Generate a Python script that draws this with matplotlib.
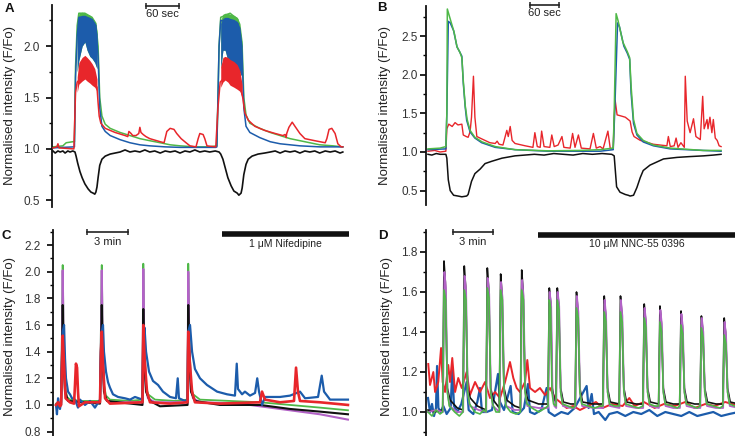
import matplotlib
matplotlib.use("Agg")
import matplotlib.pyplot as plt
import matplotlib.transforms as mtrans
from matplotlib.ticker import MultipleLocator, FormatStrFormatter

plt.rcParams['font.family'] = ['Liberation Sans', 'DejaVu Sans']

GREEN = '#4fb848'
BLUE = '#1c5cab'
RED = '#e8262b'
PURPLE = '#b262c6'
BLACK = '#111111'

# ---------------- panel A (time in s, F/Fo) ----------------
a_green = [(0, 1.02), (18, 1.03), (24, 1.06), (36, 1.07), (39, 1.07), (41, 1.80), (44, 2.20),
           (47, 2.32), (58, 2.32), (71, 2.28), (78, 2.22), (82, 2.00), (85, 1.50), (89, 1.32),
           (95, 1.24), (104, 1.20), (122, 1.16), (140, 1.13), (158, 1.10), (176, 1.08),
           (195, 1.06), (213, 1.04), (231, 1.03), (258, 1.02), (285, 1.02), (298, 1.03),
           (300, 1.50), (302, 2.00), (305, 2.28), (322, 2.32), (336, 2.26), (344, 2.00),
           (347, 1.50), (351, 1.33), (358, 1.25), (376, 1.20), (395, 1.16), (413, 1.13),
           (431, 1.10), (449, 1.08), (467, 1.06), (485, 1.04), (509, 1.03), (527, 1.02)]
a_blue = [(0, 1.01), (38, 1.02), (39, 1.02), (41, 1.70), (44, 2.10), (47, 2.28), (71, 2.26),
          (78, 2.20), (82, 1.90), (85, 1.40), (89, 1.22), (95, 1.17), (104, 1.13), (122, 1.09),
          (140, 1.06), (158, 1.04), (176, 1.03), (204, 1.02), (231, 1.015), (296, 1.015),
          (298, 1.02), (300, 1.50), (302, 2.00), (305, 2.25), (336, 2.22), (344, 1.90),
          (347, 1.40), (351, 1.22), (358, 1.16), (376, 1.11), (395, 1.07), (413, 1.05),
          (431, 1.04), (449, 1.03), (485, 1.02), (527, 1.02)]
a_red = [(0, 1.01), (7, 1.02), (9, 1.05), (11, 1.01), (38, 1.00), (41, 1.55), (44, 1.65),
         (62, 1.75), (80, 1.60), (82, 1.45), (84, 1.32), (87, 1.25), (95, 1.20), (113, 1.16),
         (131, 1.13), (136, 1.12), (138, 1.17), (142, 1.15), (145, 1.13), (151, 1.13),
         (156, 1.15), (158, 1.21), (160, 1.16), (164, 1.14), (169, 1.12), (176, 1.10),
         (195, 1.07), (202, 1.06), (207, 1.17), (213, 1.20), (220, 1.19), (225, 1.15),
         (233, 1.10), (242, 1.06), (249, 1.03), (260, 1.02), (264, 1.10), (267, 1.15),
         (273, 1.14), (276, 1.10), (280, 1.03), (296, 1.02), (300, 1.40), (304, 1.65),
         (322, 1.75), (340, 1.62), (345, 1.50), (349, 1.35), (355, 1.28), (367, 1.22),
         (385, 1.18), (404, 1.15), (418, 1.13), (422, 1.14), (424, 1.11), (425, 1.15),
         (429, 1.21), (435, 1.26), (440, 1.22), (449, 1.15), (458, 1.10), (476, 1.08),
         (495, 1.06), (498, 1.10), (502, 1.19), (507, 1.20), (513, 1.15), (518, 1.05),
         (524, 1.02), (527, 1.02)]
a_black = [(0, 0.98), (4, 0.96), (9, 0.98), (13, 0.97), (18, 0.98), (22, 0.96), (27, 0.98),
           (31, 0.97), (36, 0.98), (40, 0.97), (42, 0.93), (45, 0.86), (49, 0.78), (53, 0.72),
           (58, 0.66), (64, 0.61), (69, 0.58), (73, 0.57), (76, 0.56), (78, 0.58), (80, 0.63),
           (82, 0.72), (85, 0.84), (89, 0.90), (95, 0.93), (104, 0.95), (113, 0.96),
           (122, 0.97), (131, 0.99), (140, 0.97), (149, 0.98), (158, 0.97), (167, 0.99),
           (176, 0.97), (185, 0.98), (195, 0.96), (204, 0.98), (213, 0.97), (222, 0.98),
           (231, 0.96), (240, 0.98), (249, 0.97), (258, 0.99), (267, 0.97), (276, 0.98),
           (285, 0.97), (295, 0.98), (302, 0.97), (305, 0.95), (309, 0.90), (313, 0.82),
           (318, 0.72), (324, 0.64), (329, 0.59), (335, 0.57), (338, 0.55), (342, 0.57),
           (344, 0.62), (347, 0.75), (351, 0.85), (355, 0.90), (362, 0.93), (373, 0.95),
           (385, 0.96), (395, 0.97), (404, 0.98), (413, 0.96), (422, 0.98), (431, 0.97),
           (440, 0.98), (449, 0.96), (458, 0.98), (467, 0.97), (476, 0.98), (485, 0.96),
           (495, 0.98), (504, 0.97), (513, 0.98), (522, 0.96), (527, 0.97)]
# oscillating plateau envelopes (two stimulations)
a_band_t = [[44, 47, 53, 58, 62, 67, 71, 76, 80], [305, 309, 313, 318, 322, 329, 335, 340, 344]]
a_green_top = [[2.20, 2.32, 2.33, 2.32, 2.31, 2.30, 2.28, 2.24, 2.15],
               [2.25, 2.31, 2.32, 2.32, 2.31, 2.30, 2.28, 2.22, 2.05]]
a_blue_top = [[2.15, 2.29, 2.30, 2.30, 2.29, 2.28, 2.26, 2.22, 2.12],
              [2.22, 2.27, 2.28, 2.28, 2.27, 2.26, 2.24, 2.18, 2.00]]
a_blue_low = [[1.75, 1.86, 2.00, 2.04, 1.96, 1.90, 1.88, 1.84, 1.78],
              [1.78, 1.96, 1.96, 1.86, 1.82, 1.80, 1.78, 1.74, 1.70]]
a_red_top = [[1.70, 1.84, 1.89, 1.91, 1.89, 1.86, 1.83, 1.78, 1.68],
             [1.80, 1.89, 1.90, 1.89, 1.87, 1.85, 1.82, 1.76, 1.62]]
a_red_low = [[1.55, 1.63, 1.66, 1.68, 1.66, 1.64, 1.62, 1.60, 1.56],
             [1.60, 1.65, 1.67, 1.65, 1.62, 1.60, 1.58, 1.56, 1.50]]

# ---------------- panel B (time in s) ----------------
b_green = [(0, 1.04), (25, 1.05), (37, 1.07), (39, 1.50), (40, 2.85), (46, 2.72), (54, 2.55),
           (60, 2.36), (66, 2.29), (70, 2.22), (73, 1.92), (77, 1.60), (81, 1.42), (87, 1.28),
           (97, 1.19), (112, 1.13), (139, 1.07), (180, 1.03), (248, 1.015), (314, 1.02),
           (356, 1.03), (383, 1.05), (385, 1.50), (389, 2.79), (393, 2.70), (403, 2.42),
           (412, 2.30), (417, 2.22), (420, 1.85), (425, 1.42), (432, 1.24), (445, 1.15),
           (466, 1.09), (501, 1.05), (569, 1.02), (606, 1.02)]
b_blue = [(0, 1.03), (37, 1.04), (39, 1.50), (42, 2.69), (46, 2.67), (53, 2.57), (60, 2.36),
          (66, 2.29), (70, 2.24), (73, 1.89), (77, 1.58), (80, 1.41), (87, 1.26), (97, 1.18),
          (111, 1.12), (139, 1.06), (180, 1.03), (248, 1.01), (356, 1.01), (383, 1.03),
          (386, 1.50), (392, 2.67), (396, 2.62), (405, 2.37), (412, 2.28), (417, 2.20),
          (420, 1.76), (425, 1.37), (432, 1.22), (445, 1.13), (466, 1.08), (501, 1.04),
          (569, 1.02), (606, 1.01)]
b_red = [(0, 1.01), (14, 1.02), (25, 1.00), (37, 1.01), (39, 1.30), (43, 1.36), (50, 1.33),
         (56, 1.38), (62, 1.35), (70, 1.36), (73, 1.22), (79, 1.20), (83, 1.19), (87, 1.26),
         (90, 1.45), (94, 1.98), (97, 1.45), (101, 1.20), (111, 1.17), (128, 1.12),
         (139, 1.11), (143, 1.14), (147, 1.10), (155, 1.09), (163, 1.28), (166, 1.20),
         (170, 1.33), (174, 1.15), (180, 1.11), (201, 1.08), (217, 1.06), (221, 1.25),
         (226, 1.07), (232, 1.06), (235, 1.27), (240, 1.07), (252, 1.06), (256, 1.22),
         (261, 1.07), (269, 1.09), (277, 1.20), (281, 1.06), (294, 1.05), (299, 1.24),
         (304, 1.06), (311, 1.22), (317, 1.05), (335, 1.04), (342, 1.24), (348, 1.05),
         (356, 1.07), (362, 1.04), (372, 1.27), (377, 1.04), (383, 1.05), (385, 1.45),
         (387, 1.67), (391, 1.48), (397, 1.47), (408, 1.45), (414, 1.42), (418, 1.40),
         (422, 1.26), (426, 1.20), (439, 1.15), (466, 1.10), (494, 1.08), (497, 1.20),
         (501, 1.07), (509, 1.08), (513, 1.18), (517, 1.06), (523, 1.12), (530, 1.06),
         (532, 1.98), (536, 1.40), (542, 1.25), (549, 1.43), (554, 1.20), (563, 1.16),
         (568, 1.72), (571, 1.30), (577, 1.42), (579, 1.30), (583, 1.45), (587, 1.25),
         (590, 1.42), (594, 1.18), (598, 1.15), (602, 1.08), (606, 1.07)]
b_black = [(0, 0.97), (8, 0.96), (17, 0.98), (25, 0.97), (37, 0.97), (39, 0.92), (42, 0.64),
           (46, 0.50), (53, 0.44), (62, 0.43), (70, 0.42), (80, 0.43), (83, 0.45), (90, 0.62),
           (97, 0.72), (108, 0.78), (118, 0.85), (132, 0.88), (153, 0.92), (180, 0.95),
           (200, 0.96), (220, 0.97), (240, 0.96), (260, 0.98), (280, 0.97), (300, 0.96),
           (320, 0.98), (340, 0.97), (360, 0.98), (380, 0.97), (385, 0.95), (390, 0.55),
           (397, 0.48), (408, 0.45), (414, 0.44), (418, 0.43), (425, 0.44), (432, 0.54),
           (439, 0.67), (445, 0.76), (459, 0.83), (473, 0.87), (487, 0.91), (515, 0.93),
           (540, 0.94), (570, 0.95), (590, 0.96), (606, 0.97)]

# ---------------- panel C (time in min) ----------------
c_green = [(0.00, 1.01), (0.37, 1.02), (0.44, 1.60), (0.49, 2.05), (0.56, 1.50), (0.66, 1.15),
           (0.81, 1.06), (1.02, 1.04), (1.76, 1.03), (3.22, 1.03), (3.29, 1.60), (3.35, 2.05),
           (3.42, 1.50), (3.51, 1.15), (3.66, 1.07), (3.95, 1.04), (5.42, 1.03), (6.33, 1.04),
           (6.39, 2.06), (6.46, 1.50), (6.59, 1.15), (6.73, 1.08), (7.25, 1.04), (8.71, 1.03),
           (9.63, 1.04), (9.68, 2.06), (9.76, 1.50), (9.88, 1.15), (10.03, 1.08),
           (10.54, 1.04), (14.93, 1.02), (17.13, 1.00), (19.32, 0.98), (21.37, 0.96)]
c_purple = [(0.00, 1.00), (0.37, 1.00), (0.44, 1.50), (0.49, 2.01), (0.56, 1.45), (0.66, 1.12),
            (0.81, 1.04), (1.02, 1.02), (3.22, 1.02), (3.29, 1.50), (3.35, 2.01), (3.42, 1.45),
            (3.51, 1.12), (3.66, 1.04), (3.95, 1.02), (6.33, 1.02), (6.39, 2.02), (6.46, 1.45),
            (6.59, 1.12), (6.73, 1.05), (7.25, 1.02), (9.63, 1.02), (9.68, 2.00), (9.76, 1.45),
            (9.88, 1.12), (10.03, 1.05), (10.54, 1.02), (13.47, 1.01), (14.93, 0.99),
            (17.13, 0.96), (19.32, 0.93), (21.37, 0.89)]
c_black = [(0.00, 1.00), (0.37, 1.00), (0.44, 1.40), (0.49, 1.75), (0.56, 1.35), (0.66, 1.10),
           (0.88, 1.03), (3.22, 1.01), (3.29, 1.40), (3.35, 1.75), (3.42, 1.35), (3.51, 1.10),
           (3.73, 1.03), (6.33, 1.00), (6.39, 1.72), (6.46, 1.32), (6.59, 1.10), (6.88, 1.03),
           (7.61, 0.99), (9.63, 1.00), (9.68, 1.75), (9.76, 1.35), (9.88, 1.10), (10.17, 1.03),
           (12.00, 1.00), (14.93, 1.00), (17.13, 0.97), (19.32, 0.95), (21.37, 0.93)]
c_blue = [(0.00, 1.00), (0.07, 0.93), (0.15, 1.05), (0.22, 1.00), (0.29, 0.97), (0.37, 1.02),
          (0.44, 1.30), (0.49, 1.55), (0.59, 1.60), (0.66, 1.35), (0.73, 1.20), (0.88, 1.10),
          (1.02, 1.08), (1.17, 1.05), (1.39, 1.04), (1.61, 0.98), (1.76, 1.04), (2.12, 1.00),
          (2.49, 1.03), (2.85, 0.98), (3.22, 1.04), (3.29, 1.40), (3.35, 1.55), (3.44, 1.60),
          (3.51, 1.40), (3.66, 1.25), (3.81, 1.17), (3.95, 1.13), (4.17, 1.08), (4.54, 1.06),
          (5.05, 1.05), (5.42, 1.04), (5.78, 1.06), (6.33, 1.04), (6.39, 1.50), (6.48, 1.58),
          (6.59, 1.40), (6.81, 1.25), (7.10, 1.18), (7.47, 1.15), (7.83, 1.10), (8.35, 1.06),
          (8.78, 1.05), (8.91, 1.20), (9.00, 1.05), (9.44, 1.03), (9.63, 1.04), (9.68, 1.55),
          (9.81, 1.60), (9.96, 1.40), (10.17, 1.27), (10.54, 1.20), (11.05, 1.15),
          (11.79, 1.10), (12.52, 1.08), (13.10, 1.07), (13.23, 1.31), (13.32, 1.12),
          (13.62, 1.08), (13.83, 1.10), (14.20, 1.07), (14.57, 1.09), (14.73, 1.20),
          (14.86, 1.10), (15.08, 1.00), (15.30, 1.06), (16.40, 1.06), (17.13, 1.07),
          (17.86, 1.10), (18.23, 1.05), (19.18, 1.06), (19.45, 1.22), (19.62, 1.10),
          (20.06, 1.04), (21.37, 1.04)]
c_red = [(0.00, 1.00), (0.15, 1.02), (0.29, 0.99), (0.37, 1.00), (0.44, 1.30), (0.49, 1.52),
         (0.59, 1.30), (0.70, 1.05), (1.02, 1.02), (1.32, 1.01), (1.39, 1.15), (1.46, 1.31),
         (1.54, 1.28), (1.61, 1.10), (1.68, 0.99), (2.12, 1.02), (3.22, 1.02), (3.29, 1.40),
         (3.35, 1.55), (3.44, 1.30), (3.59, 1.05), (3.95, 1.01), (6.33, 1.02), (6.39, 1.60),
         (6.48, 1.35), (6.66, 1.10), (6.88, 1.02), (8.35, 1.01), (9.63, 1.02), (9.68, 1.55),
         (9.77, 1.35), (9.96, 1.10), (10.17, 1.02), (12.00, 1.01), (14.93, 1.02),
         (15.08, 1.10), (15.30, 1.04), (16.40, 1.02), (17.42, 1.03), (17.57, 1.28),
         (17.71, 1.10), (17.86, 1.03), (19.32, 1.02), (21.37, 1.00)]

# ---------------- panel D (time in min) ----------------
d_blue = [(0.00, 1.07), (0.15, 1.00), (0.30, 1.04), (0.45, 0.98), (0.60, 1.02), (0.68, 1.23),
          (0.78, 1.02), (0.95, 1.00), (1.15, 1.03), (1.40, 0.99), (1.70, 1.02), (1.82, 1.22),
          (1.95, 1.03), (2.20, 1.00), (2.50, 1.04), (2.90, 1.15), (3.05, 1.01), (3.40, 0.99),
          (3.70, 1.05), (3.90, 1.12), (4.05, 1.00), (4.40, 1.00), (4.80, 1.01), (5.25, 1.19),
          (5.40, 1.05), (5.70, 1.01), (6.20, 1.13), (6.35, 1.00), (6.80, 0.99), (7.20, 1.02),
          (7.50, 1.14), (7.65, 1.00), (8.00, 0.99), (8.50, 1.01), (8.90, 1.12), (9.05, 1.00),
          (9.50, 0.98), (10.00, 1.00), (10.50, 0.99), (11.00, 1.02), (11.90, 1.13),
          (12.05, 1.02), (12.28, 1.09), (12.45, 0.99), (12.80, 1.00), (13.30, 0.96),
          (13.60, 0.99), (14.20, 1.00), (14.80, 0.98), (15.40, 1.00), (16.00, 0.99),
          (16.60, 1.01), (17.20, 0.98), (17.80, 1.00), (18.40, 0.99), (19.00, 0.98),
          (19.60, 1.00), (20.20, 0.98), (20.80, 0.99), (21.40, 1.00), (22.00, 0.98),
          (22.60, 0.99), (23.30, 1.00)]
d_red = [(0.02, 1.24), (0.15, 1.135), (0.40, 1.20), (0.53, 1.10), (0.77, 1.15), (0.98, 1.32),
         (1.10, 1.15), (1.28, 1.10), (1.52, 1.235), (1.65, 1.15), (1.82, 1.27), (2.03, 1.10),
         (2.27, 1.17), (2.53, 1.12), (2.90, 1.20), (3.15, 1.085), (3.53, 1.15), (3.90, 1.10),
         (4.28, 1.15), (4.65, 1.07), (5.03, 1.10), (5.40, 1.07), (5.78, 1.15), (6.15, 1.25),
         (6.40, 1.17), (6.65, 1.12), (6.90, 1.10), (7.28, 1.15), (7.45, 1.26), (7.65, 1.12),
         (8.03, 1.10), (8.40, 1.12), (8.78, 1.085), (9.15, 1.12), (9.53, 1.07), (9.90, 1.05),
         (10.40, 1.02), (10.90, 1.03), (11.40, 1.01), (12.00, 1.03), (12.60, 1.05),
         (13.10, 1.02), (13.80, 1.04), (14.60, 1.03), (15.10, 1.07), (15.50, 1.03),
         (16.20, 1.05), (17.00, 1.02), (17.70, 1.04), (18.50, 1.03), (19.30, 1.05),
         (20.00, 1.02), (20.80, 1.04), (21.50, 1.03), (22.30, 1.05), (23.30, 1.03)]
d_black = [(0.00, 1.01), (0.50, 1.00), (1.10, 1.01), (1.20, 1.755), (1.30, 1.65), (1.45, 1.12),
           (1.65, 1.06), (2.20, 1.02), (2.62, 1.01), (2.72, 1.73), (2.82, 1.63), (2.97, 1.12),
           (3.17, 1.07), (3.70, 1.03), (4.35, 1.01), (4.45, 1.72), (4.55, 1.62), (4.70, 1.12),
           (4.90, 1.06), (5.35, 1.02), (5.45, 1.69), (5.55, 1.59), (5.70, 1.12), (5.90, 1.06),
           (6.50, 1.03), (6.93, 1.02), (7.03, 1.71), (7.13, 1.61), (7.28, 1.12), (7.48, 1.06),
           (8.30, 1.04), (9.00, 1.04), (9.10, 1.62), (9.20, 1.55), (9.32, 1.12), (9.48, 1.06),
           (9.60, 1.05), (9.70, 1.62), (9.80, 1.54), (9.95, 1.12), (10.15, 1.05),
           (10.70, 1.04), (11.04, 1.04), (11.14, 1.60), (11.24, 1.51), (11.39, 1.12),
           (11.59, 1.05), (12.40, 1.04), (13.12, 1.04), (13.22, 1.58), (13.32, 1.49),
           (13.47, 1.12), (13.67, 1.05), (14.34, 1.04), (14.44, 1.58), (14.54, 1.49),
           (14.69, 1.12), (14.89, 1.05), (15.60, 1.04), (16.12, 1.04), (16.22, 1.54),
           (16.32, 1.46), (16.47, 1.12), (16.67, 1.05), (17.30, 1.04), (17.40, 1.53),
           (17.50, 1.45), (17.65, 1.12), (17.85, 1.05), (18.40, 1.04), (18.88, 1.04),
           (18.98, 1.505), (19.08, 1.43), (19.23, 1.12), (19.43, 1.05), (20.00, 1.04),
           (20.41, 1.04), (20.51, 1.48), (20.61, 1.41), (20.76, 1.12), (20.96, 1.05),
           (21.60, 1.04), (22.12, 1.04), (22.22, 1.47), (22.32, 1.40), (22.47, 1.12),
           (22.67, 1.05), (23.30, 1.04)]
d_purple = [(0.00, 1.00), (0.60, 1.01), (1.12, 1.00), (1.23, 1.70), (1.34, 1.62), (1.46, 1.10),
            (1.62, 1.03), (2.20, 1.00), (2.64, 1.00), (2.75, 1.68), (2.86, 1.60), (2.98, 1.10),
            (3.14, 1.03), (3.80, 1.01), (4.37, 1.00), (4.48, 1.67), (4.59, 1.59), (4.71, 1.10),
            (4.87, 1.03), (5.37, 1.00), (5.48, 1.65), (5.59, 1.57), (5.71, 1.10), (5.87, 1.03),
            (6.50, 1.01), (6.95, 1.01), (7.06, 1.66), (7.17, 1.58), (7.29, 1.10), (7.45, 1.03),
            (8.30, 1.02), (9.02, 1.02), (9.13, 1.60), (9.24, 1.53), (9.34, 1.10), (9.48, 1.03),
            (9.62, 1.02), (9.73, 1.60), (9.84, 1.53), (9.96, 1.10), (10.12, 1.03),
            (10.70, 1.02), (11.06, 1.02), (11.17, 1.58), (11.28, 1.50), (11.40, 1.10),
            (11.56, 1.03), (12.40, 1.02), (13.14, 1.02), (13.25, 1.56), (13.36, 1.48),
            (13.48, 1.10), (13.64, 1.03), (14.36, 1.02), (14.47, 1.56), (14.58, 1.48),
            (14.70, 1.10), (14.86, 1.03), (15.60, 1.02), (16.14, 1.02), (16.25, 1.52),
            (16.36, 1.45), (16.48, 1.10), (16.64, 1.03), (17.32, 1.02), (17.43, 1.51),
            (17.54, 1.44), (17.66, 1.10), (17.82, 1.03), (18.40, 1.02), (18.90, 1.02),
            (19.01, 1.49), (19.12, 1.42), (19.24, 1.10), (19.40, 1.03), (20.00, 1.02),
            (20.43, 1.02), (20.54, 1.47), (20.65, 1.40), (20.77, 1.10), (20.93, 1.03),
            (21.60, 1.02), (22.14, 1.02), (22.25, 1.45), (22.36, 1.38), (22.48, 1.10),
            (22.64, 1.03), (23.30, 1.02)]
d_green = [(0.00, 1.00), (0.30, 0.98), (0.60, 1.01), (0.90, 0.99), (1.10, 1.00), (1.20, 1.61),
           (1.33, 1.56), (1.45, 1.10), (1.60, 1.03), (2.00, 1.00), (2.35, 0.98), (2.62, 1.00),
           (2.72, 1.61), (2.85, 1.56), (2.97, 1.10), (3.12, 1.04), (3.50, 1.00), (3.90, 0.99),
           (4.20, 1.01), (4.35, 1.00), (4.45, 1.62), (4.58, 1.57), (4.70, 1.10), (4.85, 1.04),
           (5.10, 1.00), (5.35, 1.00), (5.45, 1.61), (5.58, 1.56), (5.70, 1.10), (5.85, 1.03),
           (6.20, 1.00), (6.60, 0.99), (6.93, 1.00), (7.03, 1.61), (7.16, 1.56), (7.28, 1.10),
           (7.43, 1.04), (7.80, 1.02), (8.30, 1.00), (8.80, 1.02), (9.00, 1.03), (9.10, 1.56),
           (9.20, 1.52), (9.30, 1.10), (9.42, 1.04), (9.60, 1.03), (9.70, 1.56), (9.83, 1.51),
           (9.95, 1.10), (10.10, 1.04), (10.50, 1.03), (10.90, 1.02), (11.04, 1.03),
           (11.14, 1.52), (11.27, 1.47), (11.39, 1.10), (11.54, 1.04), (12.00, 1.03),
           (12.50, 1.02), (12.90, 1.03), (13.12, 1.03), (13.22, 1.50), (13.35, 1.45),
           (13.47, 1.10), (13.62, 1.04), (14.00, 1.03), (14.34, 1.03), (14.44, 1.50),
           (14.57, 1.45), (14.69, 1.10), (14.84, 1.04), (15.30, 1.03), (15.80, 1.02),
           (16.12, 1.03), (16.22, 1.47), (16.35, 1.42), (16.47, 1.10), (16.62, 1.04),
           (17.00, 1.03), (17.30, 1.03), (17.40, 1.45), (17.53, 1.40), (17.65, 1.10),
           (17.80, 1.04), (18.30, 1.03), (18.70, 1.02), (18.88, 1.03), (18.98, 1.435),
           (19.11, 1.39), (19.23, 1.10), (19.38, 1.04), (19.80, 1.03), (20.20, 1.02),
           (20.41, 1.03), (20.51, 1.42), (20.64, 1.37), (20.76, 1.10), (20.91, 1.04),
           (21.40, 1.03), (21.90, 1.02), (22.12, 1.03), (22.22, 1.385), (22.35, 1.34),
           (22.47, 1.10), (22.62, 1.04), (23.00, 1.03), (23.30, 1.02)]

YLABEL = 'Normalised intensity (F/Fo)'


def trace(ax, pts, color, lw, z):
    t = [p[0] for p in pts]
    v = [p[1] for p in pts]
    ax.plot(t, v, color=color, lw=lw, zorder=z, solid_joinstyle='round')


def style(ax, major, minor, pad):
    for s in ['top', 'right', 'bottom']:
        ax.spines[s].set_visible(False)
    ax.spines['left'].set_linewidth(1.3)
    ax.spines['left'].set_color('#111111')
    ax.set_xticks([])
    ax.yaxis.set_major_locator(MultipleLocator(major))
    ax.yaxis.set_minor_locator(MultipleLocator(minor))
    ax.yaxis.set_major_formatter(FormatStrFormatter('%.1f'))
    ax.tick_params(axis='y', which='major', direction='out', length=4, width=1.2,
                   labelsize=8.5, pad=pad, labelcolor='#333333')
    ax.tick_params(axis='y', which='minor', direction='out', length=2.5, width=1.0)
    ax.patch.set_visible(False)


def scalebar(ax, t0, t1, yf, text, tyf):
    tr = mtrans.blended_transform_factory(ax.transData, ax.transAxes)
    ax.plot([t0, t1], [yf, yf], color='#222222', lw=1.2, transform=tr, clip_on=False)
    ax.plot([t0, t1], [yf, yf], ls='none', marker='|', ms=4, mew=1.1, color='#222222',
            transform=tr, clip_on=False)
    ax.text((t0 + t1) / 2, tyf, text, transform=tr, ha='center', va='center',
            fontsize=8, color='#222222')


def drugbar(ax, t0, t1, yf, text, tx, tyf):
    tr = mtrans.blended_transform_factory(ax.transData, ax.transAxes)
    ax.plot([t0, t1], [yf, yf], color='#111111', lw=4, solid_capstyle='butt',
            transform=tr, clip_on=False)
    ax.text(tx, tyf, text, transform=tr, ha='center', va='center', fontsize=7.5,
            color='#222222')


W, H = 735, 436
fig = plt.figure(figsize=(W / 100, H / 100), dpi=100)


def axes_px(l, t, r, b):
    return fig.add_axes([l / W, 1 - b / H, (r - l) / W, (b - t) / H])


# --- A ---
axA = axes_px(52, 5, 345, 207)
for k in range(2):
    tb = a_band_t[k]
    axA.fill_between(tb, a_blue_low[k], a_green_top[k], color=GREEN, lw=0, zorder=1)
    axA.fill_between(tb, a_blue_low[k], a_blue_top[k], color=BLUE, lw=0, zorder=2)
    axA.fill_between(tb, a_red_low[k], a_red_top[k], color=RED, lw=0, zorder=3)
trace(axA, a_green, GREEN, 1.1, 1)
trace(axA, a_blue, BLUE, 1.1, 2)
trace(axA, a_red, RED, 1.1, 3)
trace(axA, a_black, BLACK, 1.2, 4)
axA.set_xlim(-1.8, 531)
axA.set_ylim(0.435, 2.40)
style(axA, 0.5, 0.25, 5)
scalebar(axA, 169, 229, 0.995, '60 sec', 0.955)

# --- B ---
axB = axes_px(426, 6, 723, 205)
trace(axB, b_red, RED, 1.0, 1)
trace(axB, b_blue, BLUE, 1.1, 2)
trace(axB, b_green, GREEN, 1.1, 3)
trace(axB, b_black, BLACK, 1.1, 4)
axB.set_xlim(-4.1, 610)
axB.set_ylim(0.314, 2.889)
style(axB, 0.5, 0.25, 2)
scalebar(axB, 211, 271, 1.005, '60 sec', 0.965)

# --- C ---
axC = axes_px(53, 230, 350, 436)
trace(axC, c_green, GREEN, 1.3, 1)
trace(axC, c_purple, PURPLE, 1.5, 2)
trace(axC, c_black, BLACK, 1.5, 3)
trace(axC, c_blue, BLUE, 1.6, 4)
trace(axC, c_red, RED, 1.9, 5)
axC.set_xlim(-0.22, 21.52)
axC.set_ylim(0.767, 2.313)
style(axC, 0.2, 0.1, 5)
scalebar(axC, 2.27, 5.27, 0.990, '3 min', 0.942)
drugbar(axC, 12.15, 21.45, 0.983, '1 \u03bcM Nifedipine', 16.76, 0.932)

# --- D ---
axD = axes_px(426, 230, 735, 436)
trace(axD, d_blue, BLUE, 1.6, 1)
trace(axD, d_red, RED, 1.4, 2)
trace(axD, d_black, BLACK, 1.2, 3)
trace(axD, d_purple, PURPLE, 1.3, 4)
trace(axD, d_green, GREEN, 1.2, 5)
axD.set_xlim(-0.15, 23.03)
axD.set_ylim(0.88, 1.91)
style(axD, 0.2, 0.1, 2)
scalebar(axD, 1.875, 4.875, 0.990, '3 min', 0.942)
drugbar(axD, 8.25, 23.2, 0.978, '10 \u03bcM NNC-55 0396', 15.68, 0.932)

# y labels and panel letters
for (x, y) in [(10, 105), (385, 105), (10, 336), (387, 336)]:
    fig.text(x / W, 1 - y / H, YLABEL, rotation=90, ha='center', va='center',
             fontsize=9.5, color='#222222')
for (x, y, s) in [(9, 9, 'A'), (382, 8, 'B'), (6, 236, 'C'), (383, 236, 'D')]:
    fig.text(x / W, 1 - y / H, s, ha='center', va='center', fontsize=9.5,
             fontweight='bold', color='#111111')

fig.savefig('out.png', dpi=100)
